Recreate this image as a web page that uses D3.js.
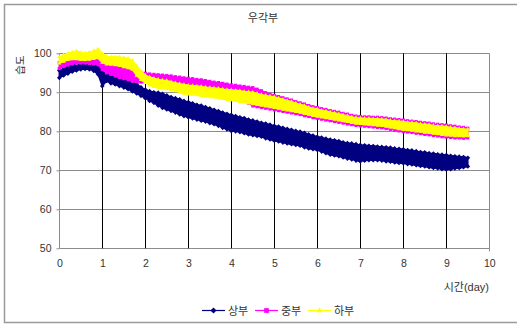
<!DOCTYPE html>
<html><head><meta charset="utf-8">
<script src="https://cdn.jsdelivr.net/npm/d3@7/dist/d3.min.js"></script>
<style>body{margin:0;background:#fff}svg{display:block}text{font-family:"Liberation Sans","Noto Sans CJK KR",sans-serif;fill:#333}</style>
</head><body><svg id="c" width="517" height="326"></svg>
<script>
const title = "우각부";
const yTitle = "습도";
const xTitle = "시간(day)";
const seriesNames = ["상부", "중부", "하부"];
const seriesColors = ["#000080", "#FF00FF", "#FFFF00"];
const xTicks = [0,1,2,3,4,5,6,7,8,9,10];
const yTicks = [50,60,70,80,90,100];
const days = [0,0.1,0.2,0.3,0.4,0.5,0.6,0.7,0.8,0.9,1,1.1,1.2,1.3,1.4,1.5,1.6,1.7,1.8,1.9,2,2.1,2.2,2.3,2.4,2.5,2.6,2.7,2.8,2.9,3,3.1,3.2,3.3,3.4,3.5,3.6,3.7,3.8,3.9,4,4.1,4.2,4.3,4.4,4.5,4.6,4.7,4.8,4.9,5,5.1,5.2,5.3,5.4,5.5,5.6,5.7,5.8,5.9,6,6.1,6.2,6.3,6.4,6.5,6.6,6.7,6.8,6.9,7,7.1,7.2,7.3,7.4,7.5,7.6,7.7,7.8,7.9,8,8.1,8.2,8.3,8.4,8.5,8.6,8.7,8.8,8.9,9,9.1,9.2,9.3,9.4,9.5];
// 상부 (lower / upper edge of the scatter band)
const upperLo = [93.7,94.3,94.8,95.3,95.6,95.9,96.0,95.9,95.5,94.6,91.6,92.9,92.3,92.0,91.6,91.2,90.8,90.2,89.7,89.1,88.5,87.8,87.3,86.6,86.0,85.6,85.2,84.8,84.3,83.9,83.6,83.3,83.0,82.7,82.5,82.1,81.8,81.4,80.9,80.5,80.1,80.0,79.8,79.5,79.2,79.0,78.8,78.6,78.2,77.9,77.6,77.4,77.1,76.9,76.7,76.5,76.3,75.9,75.6,75.4,75.2,74.8,74.4,74.0,73.8,73.6,73.3,73.0,72.8,72.5,72.3,72.5,72.6,72.6,72.6,72.5,72.3,72.2,72.0,71.9,71.8,71.6,71.5,71.3,71.1,71.0,70.8,70.6,70.5,70.3,70.2,70.3,70.5,70.6,70.8,71.0];
const upperHi = [95.6,96.0,96.6,97.0,97.3,97.6,97.8,97.8,97.6,96.8,95.6,94.8,94.2,93.9,93.6,93.3,92.9,92.5,92.1,91.3,90.7,90.3,90.0,89.9,89.6,89.2,88.8,88.5,88.2,87.8,87.5,87.2,86.8,86.6,86.2,85.9,85.5,85.2,84.8,84.5,84.2,83.9,83.6,83.4,83.0,82.8,82.5,82.2,82.0,81.7,81.4,81.2,80.9,80.6,80.4,80.1,79.9,79.6,79.2,78.9,78.6,78.4,78.1,77.9,77.7,77.5,77.2,77.0,76.9,76.7,76.5,76.4,76.3,76.2,76.1,76.0,75.9,75.8,75.6,75.5,75.4,75.2,75.1,74.9,74.7,74.6,74.4,74.3,74.1,74.0,73.9,73.7,73.6,73.5,73.4,73.2];
// 중부
const middleLo = [96.1,96.6,97.0,97.3,97.4,97.5,97.5,97.4,97.3,97.1,95.8,95.0,94.6,94.2,93.8,93.5,93.2,92.8,92.7,92.6,92.5,92.4,92.4,92.3,92.2,92.0,91.9,91.8,91.7,91.6,91.5,91.3,91.2,91.0,90.9,90.8,90.6,90.4,90.2,90.0,89.0,88.6,88.2,87.8,87.2,86.5,86.3,86.1,85.9,85.7,85.5,85.3,85.1,84.9,84.7,84.5,84.3,84.0,83.8,83.5,83.3,83.1,82.9,82.7,82.5,82.3,82.1,81.9,81.7,81.5,81.4,81.3,81.2,81.1,81.0,80.9,80.7,80.5,80.3,80.1,79.9,79.8,79.7,79.5,79.4,79.2,79.1,78.9,78.8,78.6,78.5,78.4,78.3,78.3,78.2,78.3];
const middleHi = [97.6,98.0,98.3,98.5,98.6,98.7,98.6,98.5,98.6,98.8,98.5,97.6,97.2,96.9,96.6,96.3,96.0,95.7,95.4,95.1,94.9,94.7,94.6,94.5,94.4,94.3,94.2,94.0,93.9,93.7,93.6,93.5,93.3,93.2,93.0,92.8,92.6,92.5,92.3,92.1,91.9,91.8,91.6,91.5,91.3,91.2,90.8,90.4,89.9,89.5,89.2,88.9,88.6,88.3,88.0,87.6,87.3,87.0,86.6,86.3,86.1,85.8,85.6,85.3,85.1,84.9,84.6,84.4,84.1,83.9,83.8,83.7,83.7,83.6,83.6,83.5,83.4,83.2,83.1,83.0,82.9,82.7,82.6,82.5,82.3,82.2,82.1,81.9,81.8,81.7,81.6,81.4,81.3,81.1,81.0,80.8];
// 하부
const lowerLo = [97.4,97.9,98.3,98.5,98.5,98.3,98.3,98.4,98.6,98.8,97.6,97.2,97.1,97.0,96.8,96.5,96.2,95.8,94.3,93.2,92.4,91.8,91.4,91.1,91.0,90.9,90.6,90.3,90.0,89.7,89.5,89.4,89.3,89.1,89.0,88.8,88.7,88.5,88.3,88.1,88.0,87.8,87.6,87.4,87.2,87.0,86.8,86.6,86.4,86.2,86.0,85.8,85.6,85.4,85.2,85.0,84.8,84.5,84.3,84.0,83.8,83.6,83.4,83.2,83.0,82.8,82.6,82.4,82.2,82.0,81.9,81.8,81.7,81.6,81.5,81.4,81.2,81.0,80.8,80.6,80.4,80.3,80.2,80.0,79.9,79.7,79.6,79.4,79.3,79.1,79.0,78.9,78.8,78.8,78.7,78.8];
const lowerHi = [99.1,99.6,100.0,100.3,100.6,100.2,100.1,100.3,100.6,101.1,100.0,99.2,99.1,99.1,99.0,98.9,98.7,98.2,96.7,95.5,94.4,93.9,93.6,93.3,93.1,93.0,92.7,92.4,92.2,92.0,91.8,91.7,91.6,91.5,91.3,91.2,91.1,91.0,90.8,90.7,90.6,90.5,90.4,90.2,90.1,90.0,89.7,89.4,89.2,89.0,88.8,88.5,88.2,87.9,87.6,87.2,86.9,86.6,86.2,85.9,85.7,85.4,85.2,84.9,84.7,84.5,84.2,84.0,83.7,83.5,83.4,83.3,83.3,83.2,83.2,83.1,83.0,82.8,82.7,82.6,82.5,82.3,82.2,82.1,81.9,81.8,81.7,81.5,81.4,81.3,81.2,81.0,80.9,80.7,80.6,80.5];

const svg = d3.select("#c");
const W = 517, H = 326;
svg.append("rect").attr("x",0).attr("y",0).attr("width",W).attr("height",H).attr("fill","#fff");
svg.append("rect").attr("x",4.5).attr("y",4.5).attr("width",516).attr("height",318)
  .attr("fill","none").attr("stroke","#9a9a9a").attr("stroke-width",1.5);

const x = d3.scaleLinear().domain([0,10]).range([59.3,489.3]);
const y = d3.scaleLinear().domain([50,100]).range([248.3,53.3]);

// gridlines
svg.append("g").selectAll("line").data(yTicks).join("line")
  .attr("x1",x(0)).attr("x2",x(10)).attr("y1",d=>Math.round(y(d))+0.5).attr("y2",d=>Math.round(y(d))+0.5)
  .attr("stroke","#8c8c8c").attr("stroke-width",1);
svg.append("g").selectAll("line").data(xTicks.filter(d=>d>0&&d<10)).join("line")
  .attr("x1",d=>Math.round(x(d))+0.5).attr("x2",d=>Math.round(x(d))+0.5)
  .attr("y1",y(100)).attr("y2",y(50)).attr("stroke","#000").attr("stroke-width",1);
svg.append("line").attr("x1",Math.round(x(10))+0.5).attr("x2",Math.round(x(10))+0.5)
  .attr("y1",y(100)).attr("y2",y(50)+3).attr("stroke","#8c8c8c");
svg.append("line").attr("x1",Math.round(x(0))+0.5).attr("x2",Math.round(x(0))+0.5)
  .attr("y1",y(100)).attr("y2",y(50)).attr("stroke","#8c8c8c");

const yAxis = d3.axisLeft(y).tickValues(yTicks).tickSize(3).tickPadding(5).tickFormat(d3.format("d"));
const gy = svg.append("g").attr("transform",`translate(${Math.round(x(0))+0.5},0)`).call(yAxis);
gy.select(".domain").remove();
gy.selectAll(".tick line").attr("stroke","#8c8c8c");
gy.selectAll("text").attr("font-size","10.5px").attr("fill","#333");
const xAxis = d3.axisBottom(x).tickValues(xTicks).tickSize(0).tickPadding(11).tickFormat(d3.format("d"));
const gx = svg.append("g").attr("transform",`translate(0,${Math.round(y(50))+0.5})`).call(xAxis);
gx.select(".domain").remove();
gx.selectAll("text").attr("font-size","10.5px").attr("fill","#333");

// series
const series = [
  {name:seriesNames[0], color:seriesColors[0], lo:upperLo, hi:upperHi, sym:d3.symbolDiamond2, size:14},
  {name:seriesNames[1], color:seriesColors[1], lo:middleLo, hi:middleHi, sym:d3.symbolSquare, size:10},
  {name:seriesNames[2], color:seriesColors[2], lo:lowerLo, hi:lowerHi, sym:d3.symbolTriangle2, size:12}
];
const area = d3.area().x((d,i)=>x(days[i])).y0(d=>y(d[0])).y1(d=>y(d[1])).curve(d3.curveLinear);
series.forEach(s=>{
  const pts = days.map((d,i)=>[s.lo[i], s.hi[i]]);
  const g = svg.append("g");
  g.append("path").datum(pts).attr("d",area).attr("fill",s.color).attr("stroke",s.color).attr("stroke-width",1.5).attr("stroke-linejoin","round");
  const sym = d3.symbol().type(s.sym).size(s.size);
  const marks = [];
  days.forEach((d,i)=>{ marks.push([d,s.lo[i]]); marks.push([d,s.hi[i]]); });
  g.selectAll("path.m").data(marks).join("path").attr("class","m")
    .attr("transform",d=>`translate(${x(d[0])},${y(d[1])})`)
    .attr("d",sym).attr("fill",s.color);
});

// titles
svg.append("text").attr("x",263).attr("y",22).attr("text-anchor","middle").attr("font-size","11px").text(title);
svg.append("text").attr("transform","translate(24,65) rotate(-90)").attr("text-anchor","middle")
  .attr("font-size","10.5px").text(yTitle);
svg.append("text").attr("x",489).attr("y",291).attr("text-anchor","end").attr("font-size","11px").text(xTitle);

// legend
const legX = [202, 255, 308];
series.forEach((s,i)=>{
  const g = svg.append("g").attr("transform",`translate(${legX[i]},310)`);
  g.append("line").attr("x1",0).attr("x2",23).attr("y1",0.5).attr("y2",0.5).attr("stroke",s.color).attr("stroke-width",1.2);
  g.append("path").attr("transform","translate(11.5,0.5)").attr("d",d3.symbol().type(s.sym).size(i===1?22:24)).attr("fill",s.color);
  g.append("text").attr("x",26).attr("y",4.5).attr("font-size","11px").text(s.name);
});
</script></body></html>
